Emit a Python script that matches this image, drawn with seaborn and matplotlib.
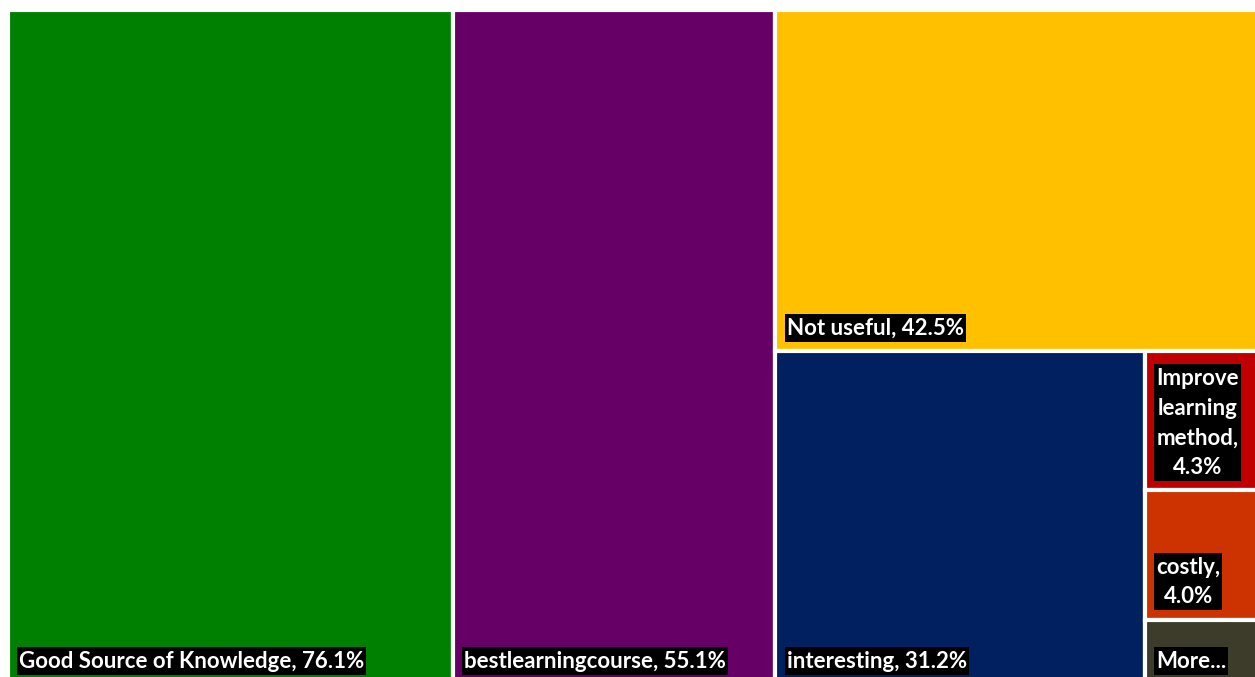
import matplotlib
matplotlib.use("Agg")
import matplotlib.pyplot as plt
from matplotlib.patches import Rectangle
import seaborn as sns

# Feedback categories and their shares (%)
categories = ["Good Source of Knowledge", "bestlearningcourse", "Not useful",
              "interesting", "Improve learning method", "costly", "More..."]
values = [76.1, 55.1, 42.5, 31.2, 4.3, 4.0, 2.0]
labels = ["Good Source of Knowledge, 76.1%", "bestlearningcourse, 55.1%",
          "Not useful, 42.5%", "interesting, 31.2%",
          "Improve learning method, 4.3%", "costly, 4.0%", "More..."]
colors = ["#008000", "#660066", "#FFC000", "#002060", "#C00000", "#CC3300", "#3D3C2B"]

sns.set_theme(style="white")
plt.rcParams["font.family"] = ["Lato", "DejaVu Sans"]
palette = sns.color_palette(colors)

W, H = 1259.0, 675.0  # layout area in pixel-sized data units


def worst_aspect(row, short, scale):
    total = sum(row) * scale
    thick = total / short
    worst = 0.0
    for v in row:
        length = v * scale / thick
        worst = max(worst, length / thick, thick / length)
    return worst


def treemap(vals, x, y, w, h):
    """Squarified layout; a row is only extended when it clearly helps."""
    rects = []
    i, n = 0, len(vals)
    while i < n:
        scale = w * h / sum(vals[i:])
        short = min(w, h)
        row = [vals[i]]
        best = worst_aspect(row, short, scale)
        j = i + 1
        while j < n:
            cand = worst_aspect(row + [vals[j]], short, scale)
            if cand < best * 0.9:
                row.append(vals[j]); best = cand; j += 1
            else:
                break
        area = sum(row) * scale
        if w >= h:
            cw = area / h
            yy = y
            for v in row:
                rh = v * scale / cw
                rects.append((x, yy, cw, rh))
                yy += rh
            x += cw; w -= cw
        else:
            rh = area / w
            xx = x
            for v in row:
                cw = v * scale / rh
                rects.append((xx, y, cw, rh))
                xx += cw
            y += rh; h -= rh
        i = j
    return rects


def wrap_words(text, max_chars):
    words = text.split(" ")
    lines, cur = [], ""
    for wd in words:
        trial = wd if not cur else cur + " " + wd
        if len(trial) <= max_chars or not cur:
            cur = trial
        else:
            lines.append(cur); cur = wd
    lines.append(cur)
    return "\n".join(lines)


fig = plt.figure(figsize=(12.55, 6.77), dpi=100)
fig.patch.set_facecolor("white")
ax = fig.add_axes([7.5 / 1255, (677 - 9.5 - H) / 677, W / 1255, H / 677])
ax.set_xlim(0, W)
ax.set_ylim(H, 0)
ax.axis("off")

rects = treemap(values, 0.0, 0.0, W, H)
fontsize = 16
char_px = 12.0
inset = 9.5          # label box distance from the tile edge
pad_x, pad_top, pad_bot = 2.0, 4.0, 3.0

renderer = fig.canvas.get_renderer()
texts = []
for (x, y, w, h), lab, col in zip(rects, labels, palette):
    ax.add_patch(Rectangle((x, y), w, h, facecolor=col, edgecolor="white",
                           linewidth=3, zorder=1))
    txt = wrap_words(lab, max(1, int((w - 20) / char_px)))
    t = ax.text(x + inset + pad_x, y + h - inset - pad_bot, txt, ha="left", va="bottom",
                multialignment="center", color="white", fontsize=fontsize,
                fontweight="bold", linespacing=1.5, zorder=3, clip_on=True)
    texts.append(t)

# black boxes behind the labels, sized from the rendered text extents
inv = ax.transData.inverted()
for t in texts:
    bb = t.get_window_extent(renderer)
    (x0, y0), (x1, y1) = inv.transform([(bb.x0, bb.y0), (bb.x1, bb.y1)])
    top, bot = min(y0, y1), max(y0, y1)
    ax.add_patch(Rectangle((x0 - pad_x, top - pad_top), (x1 - x0) + 2 * pad_x,
                           (bot - top) + pad_top + pad_bot, facecolor="black",
                           edgecolor="none", zorder=2))

fig.savefig("out.png", dpi=100)
